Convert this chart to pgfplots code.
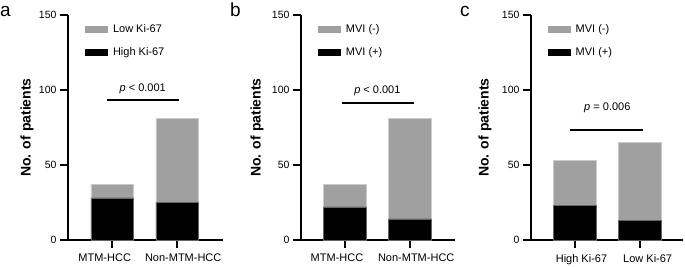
\documentclass[border=0pt]{standalone}
\usepackage{fontspec}
\setmainfont{Liberation Sans}
\usepackage{pgfplots}
\pgfplotsset{compat=1.18}
\definecolor{bargray}{RGB}{160,160,160}

\pgfplotsset{
 panel/.style={
  scale only axis, width=154pt, height=225pt, anchor=south west,
  ybar stacked, bar width=0.66,
  xmin=-0.68, xmax=1.70, ymin=0, ymax=150,
  axis x line=bottom, axis y line=left, axis line style={-, line width=2.1pt},
  xtick={0,1}, ytick={0,50,100,150},
  tick align=outside, major tick length=8pt,
  tick style={line width=1.7pt, black},
  yticklabel style={font=\fontsize{10.5}{12}\selectfont},
  xticklabel style={font=\fontsize{11}{13}\selectfont, yshift=-2.5pt},
  /pgf/number format/assume math mode=true,
  ylabel={No. of patients},
  legend style={draw=none, fill=none, font=\fontsize{11}{13}\selectfont, anchor=north west,
    at={(axis description cs:0.11,0.965)}, row sep=9pt, inner sep=0pt, outer sep=0pt},
  legend cell align=left, reverse legend,
  clip=false,
 },
 ylab/.style={ylabel style={font=\bfseries\fontsize{14}{16}\selectfont,
   at={([xshift=-#1]axis description cs:0,0.5)}, anchor=center}},
 blk/.style={fill=black, draw=black!60, line width=0.4pt,
   legend image code/.code={\fill[black,draw=none] (0pt,-3.5pt) rectangle (23pt,3.5pt); \path[draw=none,fill=none] (0pt,0pt) -- (26pt,0pt);}},
 gry/.style={fill=bargray, draw=gray!40, line width=0.4pt,
   legend image code/.code={\fill[bargray,draw=none] (0pt,-3.5pt) rectangle (23pt,3.5pt); \path[draw=none,fill=none] (0pt,0pt) -- (26pt,0pt);}},
}

\begin{document}
\begin{tikzpicture}
\useasboundingbox (0pt,-27pt) rectangle (685pt,240pt);

% Panel a
\begin{axis}[panel, at={(68pt,0pt)}, width=154.7pt,
  xticklabels={MTM-HCC\hspace*{15pt}, \hspace*{12pt}Non-MTM-HCC}, ylab=41pt]
\addplot[blk] coordinates {(0,28) (1,25)};
\addplot[gry] coordinates {(0,9) (1,56)};
\legend{High Ki-67, Low Ki-67}
\draw[line width=1.6pt] (axis cs:-0.08,93.3) -- (axis cs:1.03,93.3);
\node[anchor=base, font=\fontsize{11}{13}\selectfont] at (axis cs:0.47,99.3) {\textit{p} < 0.001};
\end{axis}

% Panel b
\begin{axis}[panel, at={(301pt,0pt)}, width=154pt,
  xticklabels={MTM-HCC\hspace*{16pt}, \hspace*{13pt}Non-MTM-HCC}, ylab=44pt]
\addplot[blk] coordinates {(0,22) (1,14)};
\addplot[gry] coordinates {(0,15) (1,67)};
\legend{MVI (+), MVI (-)}
\draw[line width=1.6pt] (axis cs:-0.04,91.5) -- (axis cs:1.06,91.5);
\node[anchor=base, font=\fontsize{11}{13}\selectfont] at (axis cs:0.5,97.8) {\textit{p} < 0.001};
\end{axis}

% Panel c
\begin{axis}[panel, at={(531pt,0pt)}, width=152pt, xmax=1.67,
  xticklabels={\hspace*{13pt}High Ki-67, \hspace*{16pt}Low Ki-67}, ylab=46pt]
\addplot[blk] coordinates {(0,23) (1,13)};
\addplot[gry] coordinates {(0,30) (1,52)};
\legend{MVI (+), MVI (-)}
\draw[line width=1.6pt] (axis cs:-0.07,73.3) -- (axis cs:1.05,73.3);
\node[anchor=base, font=\fontsize{11}{13}\selectfont] at (axis cs:0.5,86) {\textit{p} = 0.006};
\end{axis}

\node[anchor=base west, font=\fontsize{19}{21}\selectfont, inner sep=0pt] at (0pt,223pt) {a};
\node[anchor=base west, font=\fontsize{19}{21}\selectfont, inner sep=0pt] at (230pt,223pt) {b};
\node[anchor=base west, font=\fontsize{19}{21}\selectfont, inner sep=0pt] at (460pt,223pt) {c};
\end{tikzpicture}
\end{document}
